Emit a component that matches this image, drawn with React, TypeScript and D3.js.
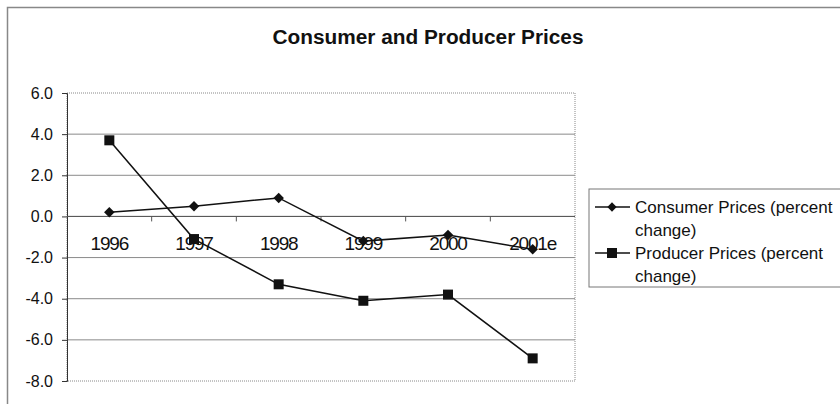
import React, { useEffect, useRef } from 'react';
import * as d3 from 'd3';

const years = ['1996', '1997', '1998', '1999', '2000', '2001e'];
const consumerPrices = [0.2, 0.5, 0.9, -1.2, -0.9, -1.6];
const producerPrices = [3.7, -1.1, -3.3, -4.1, -3.8, -6.9];
const yTicks = [6, 4, 2, 0, -2, -4, -6, -8];
const legendLabels = [
  ['Consumer Prices (percent', 'change)'],
  ['Producer Prices (percent', 'change)'],
];

const App: React.FC = () => {
  const ref = useRef<HTMLDivElement | null>(null);

  useEffect(() => {
    if (!ref.current) return;
    d3.select(ref.current).selectAll('*').remove();

    const W = 840;
    const H = 404;
    const plot = { left: 67, right: 575, top: 93, bottom: 381 };
    const font = 'Liberation Sans, Arial, sans-serif';

    const svg = d3.select(ref.current)
      .append('svg')
      .attr('width', W)
      .attr('height', H)
      .style('display', 'block')
      .style('font-family', font);

    svg.append('rect').attr('width', W).attr('height', H).attr('fill', '#fff');

    // outer chart frame (right and bottom edges fall outside the picture)
    svg.append('rect')
      .attr('x', 7.5)
      .attr('y', 7.5)
      .attr('width', W + 20)
      .attr('height', H + 20)
      .attr('fill', 'none')
      .attr('stroke', '#888')
      .attr('stroke-width', 1.5);

    svg.append('text')
      .attr('x', 428)
      .attr('y', 44)
      .attr('text-anchor', 'middle')
      .attr('font-size', 20)
      .attr('font-weight', 'bold')
      .attr('fill', '#111')
      .attr('textLength', 311)
      .attr('lengthAdjust', 'spacingAndGlyphs')
      .text('Consumer and Producer Prices');

    const x = d3.scaleBand().domain(years).range([plot.left, plot.right]).padding(0);
    const y = d3.scaleLinear().domain([-8, 6]).range([plot.bottom, plot.top]);
    const cx = (d: string) => (x(d) || 0) + x.bandwidth() / 2;

    // gridlines
    svg.append('g')
      .selectAll('line')
      .data(yTicks.slice(1, -1))
      .enter()
      .append('line')
      .attr('x1', plot.left)
      .attr('x2', plot.right)
      .attr('y1', d => y(d))
      .attr('y2', d => y(d))
      .attr('stroke', '#8a8a8a')
      .attr('stroke-width', 1);

    // plot area border (dotted)
    svg.append('rect')
      .attr('x', plot.left)
      .attr('y', plot.top)
      .attr('width', plot.right - plot.left)
      .attr('height', plot.bottom - plot.top)
      .attr('fill', 'none')
      .attr('stroke', '#888')
      .attr('stroke-dasharray', '1,1');

    // y axis
    const fmt = (d: number) => d3.format('.1f')(d).replace('\u2212', '-');
    const yAxis = svg.append('g')
      .attr('transform', `translate(${plot.left},0)`)
      .call(d3.axisLeft(y).tickValues(yTicks).tickSize(5).tickFormat(d => fmt(d as number)));
    yAxis.select('.domain').attr('stroke', '#333');
    yAxis.selectAll('line').attr('stroke', '#333');
    yAxis.selectAll('text')
      .attr('font-size', 16)
      .attr('font-family', font)
      .attr('fill', '#111')
      .attr('dx', -6);

    // x axis crossing at zero
    const y0 = y(0);
    svg.append('line')
      .attr('x1', plot.left).attr('x2', plot.right)
      .attr('y1', y0).attr('y2', y0)
      .attr('stroke', '#555');
    svg.append('g')
      .selectAll('line')
      .data(years.slice(1))
      .enter()
      .append('line')
      .attr('x1', d => x(d) || 0)
      .attr('x2', d => x(d) || 0)
      .attr('y1', y0)
      .attr('y2', y0 + 5)
      .attr('stroke', '#555');
    svg.append('g')
      .selectAll('text')
      .data(years)
      .enter()
      .append('text')
      .attr('x', d => cx(d))
      .attr('y', y0 + 34)
      .attr('text-anchor', 'middle')
      .attr('font-size', 19)
      .attr('letter-spacing', -1.2)
      .attr('fill', '#111')
      .text(d => d);

    const line = d3.line<number>()
      .x((_, i) => cx(years[i]))
      .y(d => y(d));

    const series = [consumerPrices, producerPrices];
    series.forEach((vals, si) => {
      svg.append('path')
        .datum(vals)
        .attr('d', line)
        .attr('fill', 'none')
        .attr('stroke', '#111')
        .attr('stroke-width', 1.5);
      const g = svg.append('g');
      if (si === 0) {
        g.selectAll('path')
          .data(vals)
          .enter()
          .append('path')
          .attr('d', d3.symbol(d3.symbolDiamond2, 70)())
          .attr('transform', (d, i) => `translate(${cx(years[i])},${y(d)})`)
          .attr('fill', '#111');
      } else {
        g.selectAll('rect')
          .data(vals)
          .enter()
          .append('rect')
          .attr('x', (_, i) => cx(years[i]) - 5)
          .attr('y', d => y(d) - 5)
          .attr('width', 10)
          .attr('height', 10)
          .attr('fill', '#111');
      }
    });

    // legend
    const lg = svg.append('g');
    lg.append('rect')
      .attr('x', 589)
      .attr('y', 189)
      .attr('width', 260)
      .attr('height', 98)
      .attr('fill', '#fff')
      .attr('stroke', '#777');
    const entryY = [207, 253];
    legendLabels.forEach((lines, i) => {
      const ly = entryY[i];
      lg.append('line')
        .attr('x1', 595).attr('x2', 630)
        .attr('y1', ly).attr('y2', ly)
        .attr('stroke', '#111').attr('stroke-width', 1.5);
      if (i === 0) {
        lg.append('path')
          .attr('d', d3.symbol(d3.symbolDiamond2, 55)())
          .attr('transform', `translate(612,${ly})`)
          .attr('fill', '#111');
      } else {
        lg.append('rect')
          .attr('x', 607).attr('y', ly - 5)
          .attr('width', 10).attr('height', 10)
          .attr('fill', '#111');
      }
      lines.forEach((t, j) => {
        lg.append('text')
          .attr('x', 635)
          .attr('y', ly + 6 + j * 23)
          .attr('font-size', 17)
          .attr('fill', '#111')
          .text(t);
      });
    });
  }, []);

  return <div ref={ref} style={{ position: 'absolute', left: 0, top: 0 }} />;
};

export default App;
